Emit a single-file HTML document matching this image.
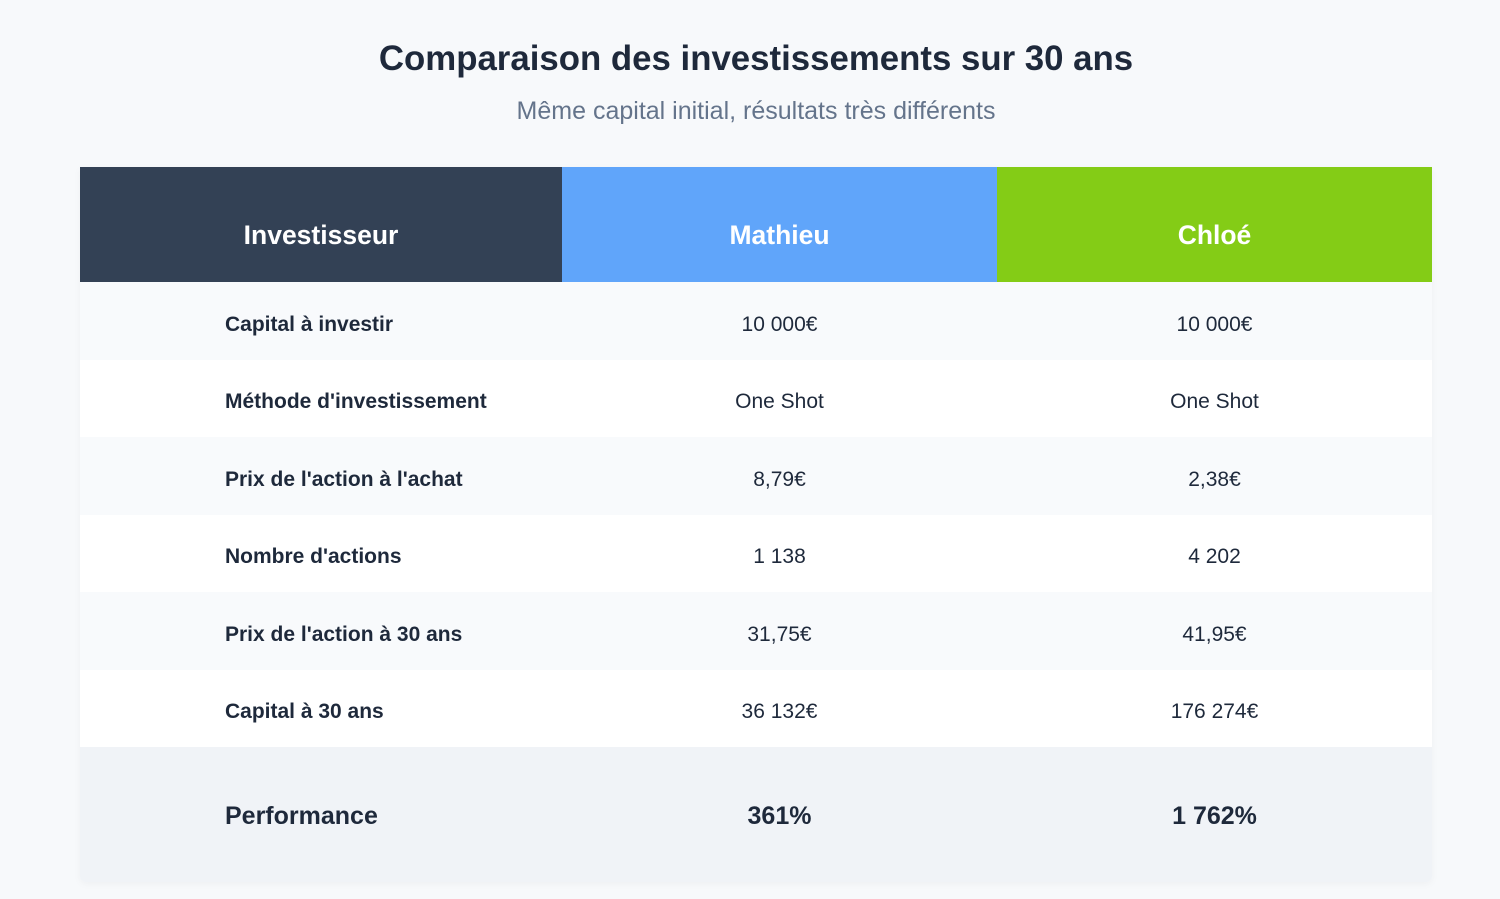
<!DOCTYPE html>
<html><head><meta charset="utf-8"><style>
*{margin:0;padding:0;box-sizing:border-box}
body{width:1500px;height:899px;background:#f7f9fb;font-family:"Liberation Sans",Arial,sans-serif;color:#1e293b;position:relative;overflow:hidden}
h1{position:absolute;top:39px;left:0;width:1512px;text-align:center;font-size:34.8px;font-weight:bold;color:#1e293b}
.sub{position:absolute;top:97px;left:0;width:1512px;text-align:center;font-size:25px;color:#64748b}
.tbl{position:absolute;left:80px;top:167px;width:1352px;border-radius:0 0 6px 6px;overflow:hidden;box-shadow:0 2px 8px rgba(0,0,0,0.04)}
.row{display:flex;height:77.5px;align-items:center;padding-top:8px}
.c0{width:482px;padding-left:145px;font-weight:bold;font-size:21px}
.c1,.c2{width:435px;text-align:center;font-size:21px}
.row.hd{height:115px;color:#fff;font-weight:bold;padding-top:0}
.hd div{height:100%;display:flex;align-items:center;justify-content:center;padding-top:22px;font-size:26.5px;font-weight:bold}
.hd .c0{padding-left:0;background:#334155}
.hd .c1{background:#60a5fa}
.hd .c2{background:#84cc16}
.a{background:#f8fafc}.b{background:#fff}
.row.perf{height:135px;background:#f0f3f7;padding-top:4px}
.perf .c0,.perf .c1,.perf .c2{font-weight:bold;font-size:25px}
</style></head><body>
<h1>Comparaison des investissements sur 30 ans</h1>
<div class="sub">Même capital initial, résultats très différents</div>
<div class="tbl">
<div class="row hd"><div class="c0">Investisseur</div><div class="c1">Mathieu</div><div class="c2">Chloé</div></div>
<div class="row a"><div class="c0">Capital à investir</div><div class="c1">10 000€</div><div class="c2">10 000€</div></div>
<div class="row b"><div class="c0">Méthode d'investissement</div><div class="c1">One Shot</div><div class="c2">One Shot</div></div>
<div class="row a"><div class="c0">Prix de l'action à l'achat</div><div class="c1">8,79€</div><div class="c2">2,38€</div></div>
<div class="row b"><div class="c0">Nombre d'actions</div><div class="c1">1 138</div><div class="c2">4 202</div></div>
<div class="row a"><div class="c0">Prix de l'action à 30 ans</div><div class="c1">31,75€</div><div class="c2">41,95€</div></div>
<div class="row b"><div class="c0">Capital à 30 ans</div><div class="c1">36 132€</div><div class="c2">176 274€</div></div>
<div class="row perf"><div class="c0">Performance</div><div class="c1">361%</div><div class="c2">1 762%</div></div>
</div>
</body></html>
